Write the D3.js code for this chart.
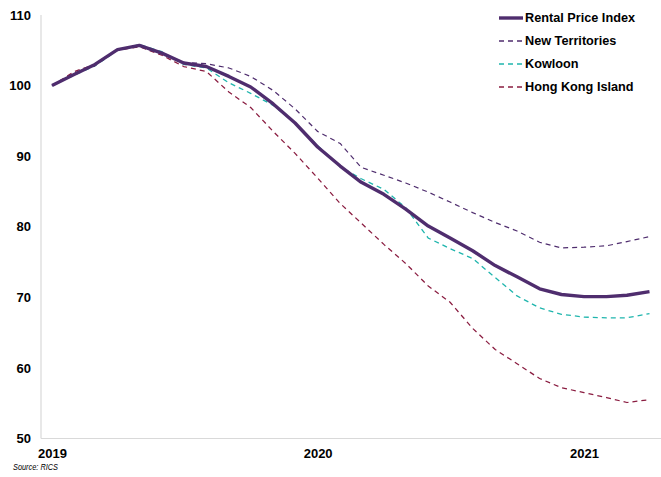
<!DOCTYPE html>
<html>
<head>
<meta charset="utf-8">
<script src="https://cdn.jsdelivr.net/npm/d3@7"></script>
<style>
  html, body { margin: 0; padding: 0; background: #fff; }
  svg { display: block; font-family: "Liberation Sans", Arial, sans-serif; }
</style>
</head>
<body>
<svg id="chart" width="661" height="477"></svg>
<script>
// Monthly index values, Jan 2019 = 100, Jan 2019 .. Apr 2021
const months = d3.range(28).map(i => new Date(2019, i, 1));
const rentalIndex = [100.0, 101.6, 103.0, 105.1, 105.7, 104.6, 103.2, 102.7, 101.3, 99.8,
  97.4, 94.7, 91.3, 88.6, 86.3, 84.6, 82.5, 80.1, 78.4, 76.6, 74.5, 72.9, 71.2, 70.4,
  70.1, 70.1, 70.3, 70.8];
const newTerritories = [100.0, 101.8, 102.8, 105.1, 105.6, 104.5, 103.3, 103.1, 102.5, 101.3,
  99.3, 96.7, 93.5, 91.8, 88.4, 87.3, 86.2, 84.9, 83.5, 82.0, 80.6, 79.4, 77.8, 77.0,
  77.1, 77.3, 77.9, 78.6];
const kowloon = [100.0, 101.5, 102.8, 105.0, 105.8, 104.8, 103.0, 102.5, 100.4, 98.9,
  97.2, 94.7, 91.5, 88.5, 86.8, 85.3, 82.7, 78.4, 76.9, 75.5, 72.8, 70.2, 68.5, 67.6,
  67.2, 67.1, 67.1, 67.7];
const hongKongIsland = [100.0, 102.0, 103.0, 105.0, 105.5, 104.3, 102.7, 102.0, 99.1, 96.9,
  93.5, 90.4, 86.9, 83.3, 80.5, 77.5, 74.8, 71.6, 69.3, 65.6, 62.6, 60.6, 58.5, 57.2,
  56.5, 55.8, 55.1, 55.5];

const yTicks = [50, 60, 70, 80, 90, 100, 110];
const xTicks = [new Date(2019, 0, 1), new Date(2020, 0, 1), new Date(2021, 0, 1)];

const seriesList = [
  { name: "Rental Price Index", values: rentalIndex, color: "#4f2d6e", width: 3.4, dash: null },
  { name: "New Territories", values: newTerritories, color: "#4f2d6e", width: 1.2, dash: "5,4" },
  { name: "Kowloon", values: kowloon, color: "#1fb5ad", width: 1.3, dash: "5,4" },
  { name: "Hong Kong Island", values: hongKongIsland, color: "#8a1c40", width: 1.25, dash: "5,4" }
];

const svg = d3.select("#chart");
const axisColor = "#d9d9d9";

const x = d3.scaleTime()
  .domain([months[0], months[months.length - 1]])
  .range([52, 649.5]);
const y = d3.scaleLinear().domain([50, 110]).range([438.5, 15]);

// Axis lines
svg.append("line")
  .attr("x1", 41).attr("x2", 41).attr("y1", y(110)).attr("y2", y(50))
  .attr("stroke", axisColor).attr("stroke-width", 1.2);
svg.append("line")
  .attr("x1", 41).attr("x2", 661).attr("y1", y(50)).attr("y2", y(50))
  .attr("stroke", axisColor).attr("stroke-width", 1.2);

// Y tick labels
const yAxis = d3.axisLeft(y).tickValues(yTicks).tickSize(0).tickPadding(0);
const gy = svg.append("g").attr("transform", "translate(31,0)").call(yAxis);
gy.select(".domain").remove();
gy.selectAll("text")
  .attr("font-family", "Liberation Sans, Arial, sans-serif")
  .attr("font-size", 13).attr("font-weight", "bold").attr("fill", "#000");

// X tick labels
const xAxis = d3.axisBottom(x).tickValues(xTicks).tickFormat(d3.timeFormat("%Y")).tickSize(0).tickPadding(0);
const gx = svg.append("g").attr("transform", "translate(0,449)").call(xAxis);
gx.select(".domain").remove();
gx.selectAll("text")
  .attr("font-family", "Liberation Sans, Arial, sans-serif")
  .attr("font-size", 13).attr("font-weight", "bold").attr("fill", "#000");

// Lines (regional dashed lines beneath the overall index)
const line = d3.line()
  .x((d, i) => x(months[i]))
  .y(d => y(d));

[...seriesList].reverse().forEach(s => {
  svg.append("path")
    .datum(s.values)
    .attr("d", line)
    .attr("fill", "none")
    .attr("stroke", s.color)
    .attr("stroke-width", s.width)
    .attr("stroke-dasharray", s.dash)
    .attr("stroke-linejoin", "round");
});

// Legend
const legend = svg.append("g").attr("transform", "translate(499,18)");
seriesList.forEach((s, i) => {
  const g = legend.append("g").attr("transform", `translate(0,${i * 23})`);
  g.append("line")
    .attr("x1", 0).attr("x2", 24).attr("y1", 0).attr("y2", 0)
    .attr("stroke", s.color)
    .attr("stroke-width", s.dash ? 1.3 : 3.4)
    .attr("stroke-dasharray", s.dash ? "5,4" : null);
  g.append("text")
    .attr("x", 26).attr("y", 0).attr("dy", "0.35em")
    .attr("font-size", 12.7).attr("font-weight", "bold").attr("fill", "#000")
    .text(s.name);
});

// Source note
svg.append("text")
  .attr("x", 13).attr("y", 470)
  .attr("font-size", 8.5).attr("font-style", "italic").attr("fill", "#000")
  .attr("textLength", 45).attr("lengthAdjust", "spacingAndGlyphs")
  .text("Source: RICS");
</script>
</body>
</html>
